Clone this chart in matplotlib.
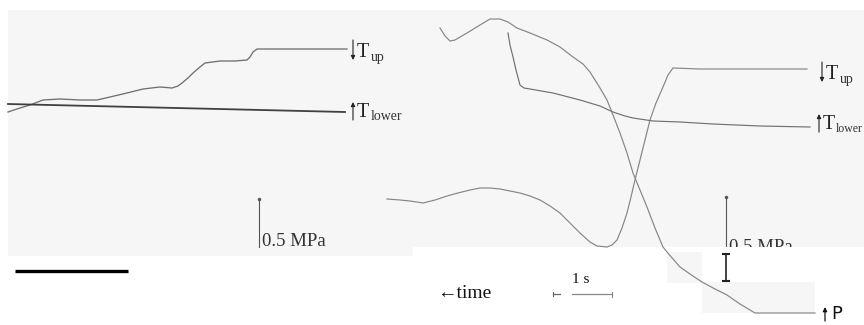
import matplotlib.pyplot as plt
from matplotlib.patches import Rectangle

# traces (x = time position, y = signal position, picture units)
tup_left_t = [8, 20, 30, 43, 60, 80, 97, 110, 127, 143, 160, 172, 178, 182, 188, 193, 200, 205, 220, 235, 247, 250, 253, 257, 347]
tup_left_v = [112, 108, 105, 100, 99, 100, 100, 97, 93, 89, 87, 88, 86, 83, 78, 73, 67, 63, 61, 61, 60, 57, 52, 49, 49]

tlow_left_t = [8, 345]
tlow_left_v = [104, 112]

p_right_t = [440, 445, 450, 455, 467, 480, 490, 500, 508, 517, 530, 547, 560, 573, 583, 590, 600, 607, 613,
             620, 627, 633, 640, 647, 655, 663, 667, 673, 680, 690, 702, 715, 727, 740, 755, 815]
p_right_v = [28, 36, 41, 40, 33, 25, 19, 19, 22, 28, 33, 40, 47, 57, 64, 72, 88, 100, 115,
             133, 153, 173, 190, 207, 228, 247, 252, 259, 267, 274, 282, 289, 295, 304, 313, 313]

tup_right_t = [387, 400, 410, 423, 435, 447, 458, 470, 480, 490, 500, 510, 520, 530, 540, 550, 560, 570, 580,
               590, 597, 607, 612, 617, 622, 627, 631, 635, 640, 645, 650, 656, 663, 668, 673, 700, 750, 807]
tup_right_v = [199, 200, 201, 203, 200, 196, 193, 190, 188, 188, 189, 191, 193, 196, 200, 206, 213, 223, 233,
               242, 246, 247, 245, 240, 228, 213, 197, 180, 160, 140, 120, 103, 87, 75, 68, 69, 69, 69]

tlow_right_t = [508, 510, 513, 516, 520, 524, 530, 553, 580, 600, 613, 625, 633, 653, 680, 713, 760, 810]
tlow_right_v = [33, 45, 57, 70, 85, 88, 89, 93, 100, 106, 112, 116, 118, 121, 122, 124, 126, 127]

serif = ['Liberation Serif', 'DejaVu Serif']

fig = plt.figure(figsize=(8.64, 3.25), dpi=100)
ax = fig.add_axes([0, 0, 1, 1])
ax.set_xlim(0, 864)
ax.set_ylim(325, 0)
ax.axis('off')

# scanned paper background
bg = '#f6f6f6'
ax.add_patch(Rectangle((8, 10), 405, 246, color=bg, lw=0, zorder=0))
ax.add_patch(Rectangle((413, 10), 451, 237, color=bg, lw=0, zorder=0))
ax.add_patch(Rectangle((413, 247), 451, 78, color='white', lw=0, zorder=3))
ax.add_patch(Rectangle((667, 252), 35, 31, color=bg, lw=0, zorder=3))
ax.add_patch(Rectangle((702, 282), 113, 31, color=bg, lw=0, zorder=3))

# traces
ax.plot(tup_left_t, tup_left_v, color='#707070', lw=0.95, zorder=5)
ax.plot(tlow_left_t, tlow_left_v, color='#404040', lw=1.3, zorder=5)
ax.plot(p_right_t, p_right_v, color='#858585', lw=0.85, zorder=5)
ax.plot(tup_right_t, tup_right_v, color='#858585', lw=0.85, zorder=5)
ax.plot(tlow_right_t, tlow_right_v, color='#707070', lw=0.85, zorder=5)

# trace labels: thin arrow, T and subscript
def tlabel(x, y, up, sub, subsize=10, subdx=17.5):
    y0, y1 = (y - 20, y) if not up else (y, y - 18)
    ax.annotate('', xy=(x, y1), xytext=(x, y0),
                arrowprops=dict(arrowstyle='-|>', lw=0.8, color='#222', mutation_scale=6,
                                shrinkA=0, shrinkB=0), zorder=6)
    ax.text(x + 4, y - 3, 'T', family=serif, fontsize=14.5, va='baseline', color='#222', zorder=6)
    ax.text(x + subdx, y + 0.5, sub, family=serif, fontsize=subsize, va='baseline', color='#333', zorder=6)

tlabel(353, 60, False, 'up')
tlabel(353, 120, True, 'lower')
tlabel(822, 82, False, 'up')
tlabel(819, 132, True, 'lower', subsize=8.5, subdx=16.5)

# pressure scale bars
ax.plot([259, 259], [199, 247], color='#555', lw=0.8, zorder=5)
ax.plot([259], [199], marker='o', ms=1.5, color='#555', zorder=5)
ax.text(262, 246, '0.5 MPa', family=serif, fontsize=13.5, va='baseline', color='#333', zorder=6)

ax.plot([726, 726], [197, 247], color='#555', lw=0.8, zorder=2)
ax.plot([726], [197], marker='o', ms=1.5, color='#555', zorder=2)
ax.text(729, 252, '0.5 MPa', family=serif, fontsize=13.5, va='baseline', color='#333', zorder=2)

ax.errorbar([726], [267.5], yerr=[13.5], color='#222', lw=1.2, capsize=3, capthick=1.5, zorder=6)

# left black bar
ax.plot([15, 128], [271, 271], color='black', lw=2.4, solid_capstyle='butt', zorder=5)

# time axis annotation
ax.text(437, 298, '←time', family=serif, fontsize=14, va='baseline', color='#111', zorder=6)
ax.text(572, 283, '1 s', family=serif, fontsize=11, va='baseline', color='#111', zorder=6)
ax.plot([553, 560], [294, 294], color='#666', lw=0.9, zorder=6)
ax.plot([553, 553], [292, 296], color='#666', lw=0.8, zorder=6)
ax.plot([572, 612], [294, 294], color='#888', lw=0.9, zorder=6)
ax.plot([612, 612], [292, 297], color='#888', lw=0.8, zorder=6)

ax.annotate('', xy=(825, 307), xytext=(825, 321),
            arrowprops=dict(arrowstyle='-|>', lw=0.9, color='#111', mutation_scale=6,
                            shrinkA=0, shrinkB=0), zorder=6)
ax.text(831, 319, 'P', family=['DejaVu Sans'], fontsize=13, va='baseline', color='#111', zorder=6)

fig.savefig('out.png', dpi=100)
